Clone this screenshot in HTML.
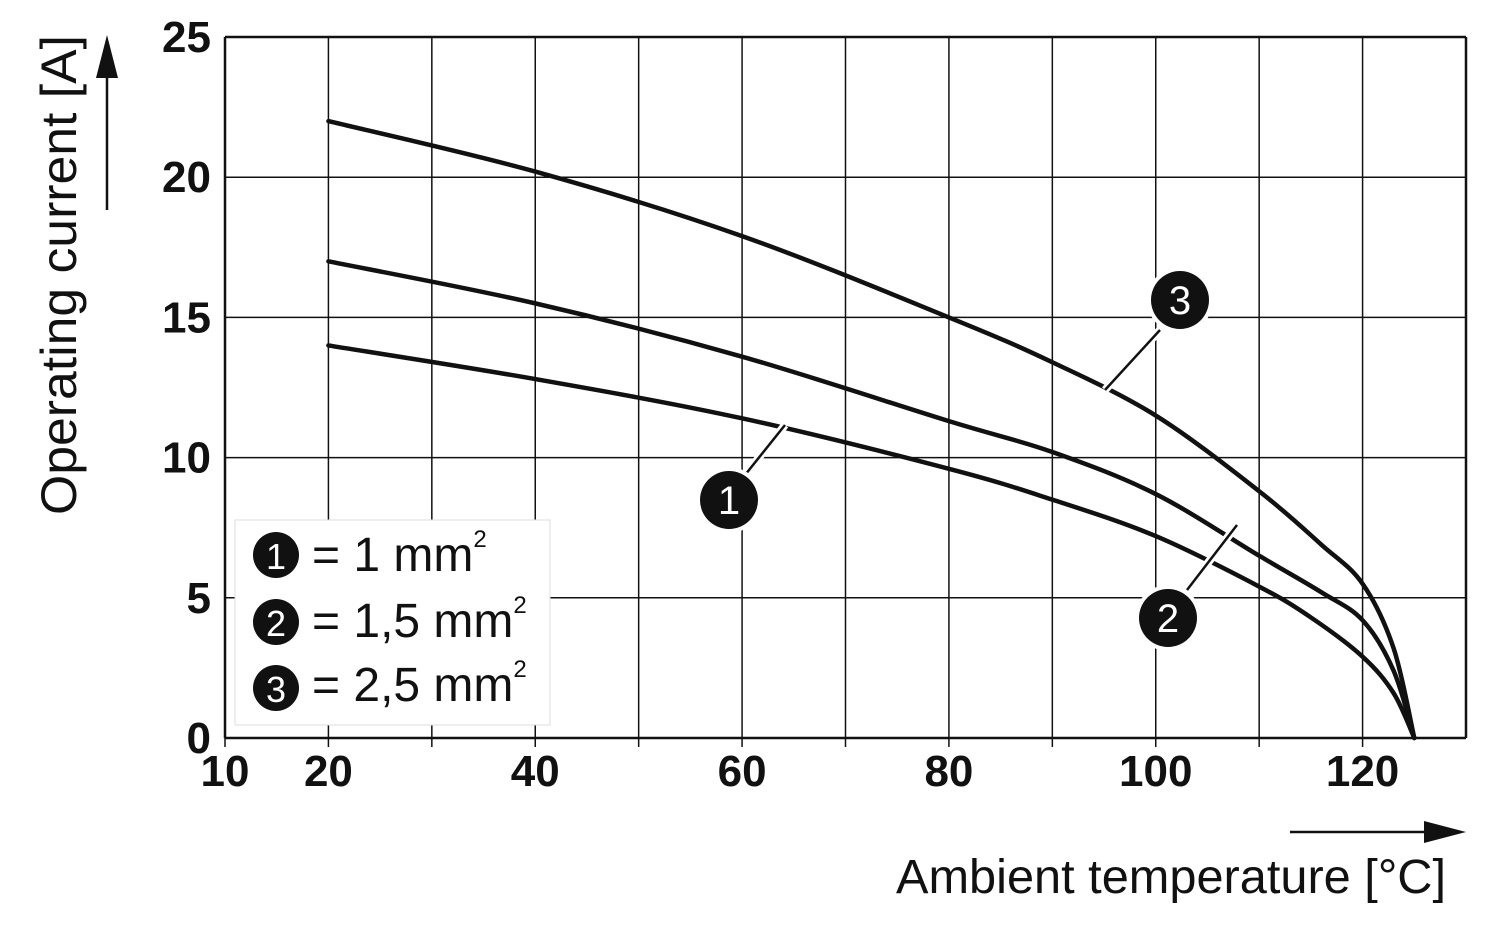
<!DOCTYPE html>
<html><head><meta charset="utf-8"><style>
html,body{margin:0;padding:0;background:#fff;}
svg{display:block;font-family:"Liberation Sans",Arial,sans-serif;}
</style></head><body>
<svg id="chart" width="1500" height="937" viewBox="0 0 1500 937">
<g id="grid"></g>
<g id="ticks"></g>
<g id="series"></g>
<g>
<text x="76" y="275" font-size="50" text-anchor="middle" textLength="480" lengthAdjust="spacingAndGlyphs" transform="rotate(-90 76 275)" fill="#111">Operating current [A]</text>
<line x1="107" y1="210" x2="107" y2="70" stroke="#111" stroke-width="2.5"/>
<polygon points="107,35 96,78 118,78" fill="#111"/>
</g>
<g>
<text x="1446" y="893" font-size="48" text-anchor="end" textLength="550" lengthAdjust="spacingAndGlyphs" fill="#111">Ambient temperature [°C]</text>
<line x1="1290" y1="832" x2="1430" y2="832" stroke="#111" stroke-width="2.5"/>
<polygon points="1466,832 1424,821 1424,843" fill="#111"/>
</g>
<g>
<rect x="235" y="520" width="315" height="205" fill="#fff" stroke="#ddd" stroke-width="1"/>
<g><circle cx="276" cy="555" r="23" fill="#111"/><text x="276" y="569" font-size="36" fill="#fff" text-anchor="middle">1</text><text x="312" y="571" font-size="48" fill="#111">= 1 mm<tspan font-size="24" dy="-24">2</tspan></text></g>
<g><circle cx="276" cy="622" r="23" fill="#111"/><text x="276" y="636" font-size="36" fill="#fff" text-anchor="middle">2</text><text x="312" y="637" font-size="48" fill="#111">= 1,5 mm<tspan font-size="24" dy="-24">2</tspan></text></g>
<g><circle cx="276" cy="688" r="23" fill="#111"/><text x="276" y="702" font-size="36" fill="#fff" text-anchor="middle">3</text><text x="312" y="701" font-size="48" fill="#111">= 2,5 mm<tspan font-size="24" dy="-24">2</tspan></text></g>
</g>
<g><line x1="1105" y1="390" x2="1160" y2="330" stroke="#fff" stroke-width="8"/><line x1="1105" y1="390" x2="1160" y2="330" stroke="#111" stroke-width="2.5"/><circle cx="1180" cy="300" r="33" fill="#fff"/><circle cx="1180" cy="300" r="29" fill="#111"/><text x="1180" y="314" font-size="40" fill="#fff" text-anchor="middle">3</text></g>
<g><line x1="785" y1="425" x2="745" y2="475" stroke="#fff" stroke-width="8"/><line x1="785" y1="425" x2="745" y2="475" stroke="#111" stroke-width="2.5"/><circle cx="729" cy="500" r="33" fill="#fff"/><circle cx="729" cy="500" r="29" fill="#111"/><text x="729" y="514" font-size="40" fill="#fff" text-anchor="middle">1</text></g>
<g><line x1="1237" y1="525" x2="1187" y2="590" stroke="#fff" stroke-width="8"/><line x1="1237" y1="525" x2="1187" y2="590" stroke="#111" stroke-width="2.5"/><circle cx="1168" cy="618" r="33" fill="#fff"/><circle cx="1168" cy="618" r="29" fill="#111"/><text x="1168" y="632" font-size="40" fill="#fff" text-anchor="middle">2</text></g>
</svg>
<script>
const xTicks=[10,20,40,60,80,100,120];
const yTicks=[0,5,10,15,20,25];
const temps1=[20,40,60,80,90,100,110,115,120,123,125];
const amps1=[14,12.8,11.4,9.6,8.5,7.2,5.4,4.3,2.9,1.6,0];
const temps2=[20,40,60,80,90,100,110,116,120,123,125];
const amps2=[17,15.5,13.6,11.3,10.2,8.7,6.5,5.2,4.2,2.4,0];
const temps3=[20,40,60,80,90,100,110,116,120,123,125];
const amps3=[22,20.2,17.9,15,13.4,11.5,8.8,6.9,5.5,3.2,0];
const X=v=>225+(v-10)*1241/120, Y=v=>738-v*701/25;
const NS='http://www.w3.org/2000/svg';
function mk(t,p,a){const e=document.createElementNS(NS,t);for(const k in a)e.setAttribute(k,a[k]);p.appendChild(e);return e;}
const g=document.getElementById('grid');
for(let v=10;v<=130;v+=10){const l=mk('line',g,{x1:X(v),x2:X(v),y1:Y(25),y2:Y(0),stroke:'#111','stroke-width':(v==10||v==130)?2.5:1.5});


if(v<130){const t=mk('line',g,{x1:X(v),x2:X(v),y1:Y(0),y2:Y(0)+9,stroke:'#111','stroke-width':1.5});

}}
for(let v=0;v<=25;v+=5){const l=mk('line',g,{x1:X(10),x2:X(130),y1:Y(v),y2:Y(v),stroke:'#111','stroke-width':(v==0||v==25)?2.5:1.5});

}
const tk=document.getElementById('ticks');
xTicks.forEach(v=>{const t=mk('text',tk,{x:X(v),y:786,'font-size':44,'font-weight':'bold','text-anchor':'middle',fill:'#111'});t.textContent=v;

});
yTicks.forEach(v=>{const t=mk('text',tk,{x:211,y:Y(v)+15,'font-size':44,'font-weight':'bold','text-anchor':'end',fill:'#111'});t.textContent=v;

});
function path(xs,ys){const p=xs.map((x,i)=>[X(x),Y(ys[i])]);let d='M'+p[0][0]+','+p[0][1];
for(let i=0;i<p.length-1;i++){const p0=p[i-1]||p[i],p1=p[i],p2=p[i+1],p3=p[i+2]||p2;
d+=` C${p1[0]+(p2[0]-p0[0])/6},${p1[1]+(p2[1]-p0[1])/6} ${p2[0]-(p3[0]-p1[0])/6},${p2[1]-(p3[1]-p1[1])/6} ${p2[0]},${p2[1]}`;}return d;}
const s=document.getElementById('series');
[[temps1,amps1,'curve-1mm2'],[temps2,amps2,'curve-1-5mm2'],[temps3,amps3,'curve-2-5mm2']].forEach(([t,a,n])=>{
const e=mk('path',s,{d:path(t,a),fill:'none',stroke:'#111','stroke-width':4.5,'stroke-linecap':'round'});

});
</script>
</body></html>
